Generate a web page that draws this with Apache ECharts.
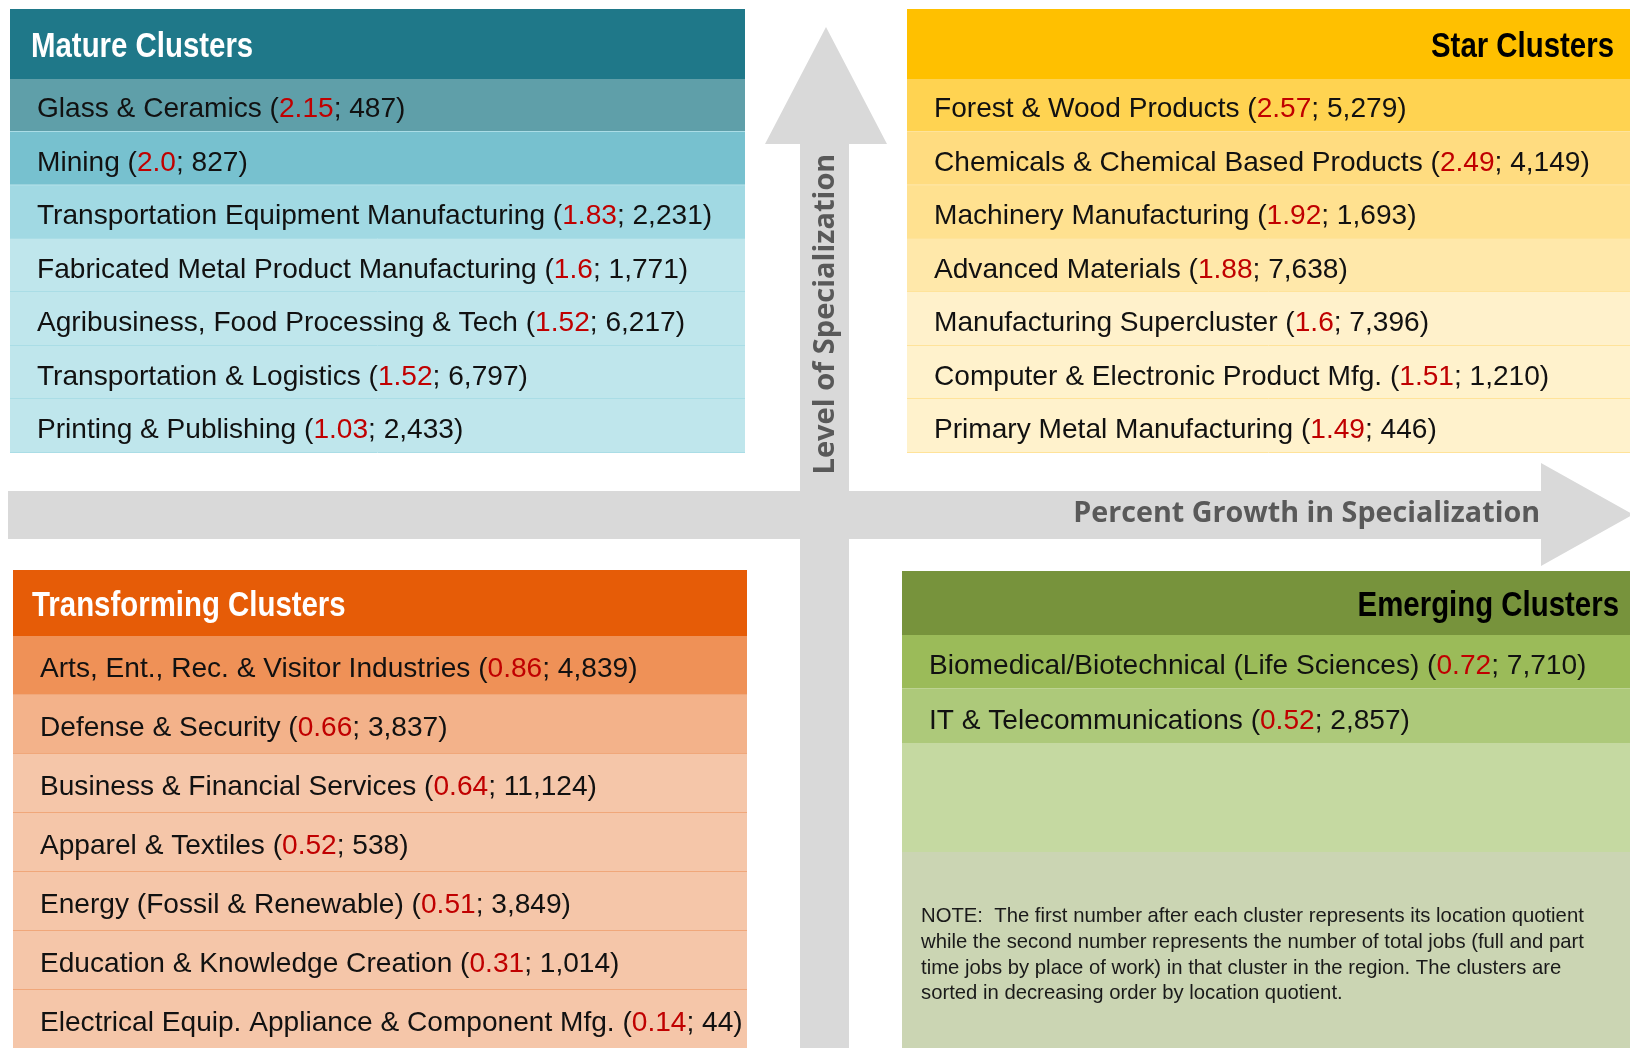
<!DOCTYPE html>
<html lang="en">
<head>
<meta charset="UTF-8">
<title>Cluster Matrix</title>
<script src="https://cdn.jsdelivr.net/npm/echarts@6/dist/echarts.min.js"></script>
<style>
  html, body { margin: 0; padding: 0; background: #fff; }
  #chart { width: 1630px; height: 1048px; }
</style>
</head>
<body>
<div id="chart"></div>
<script>
// quadrant data: cluster name, location quotient (as printed), total jobs
const matureNames = ['Glass & Ceramics', 'Mining', 'Transportation Equipment Manufacturing',
  'Fabricated Metal Product Manufacturing', 'Agribusiness, Food Processing & Tech',
  'Transportation & Logistics', 'Printing & Publishing'];
const matureLQ = ['2.15', '2.0', '1.83', '1.6', '1.52', '1.52', '1.03'];
const matureJobs = [487, 827, 2231, 1771, 6217, 6797, 2433];

const starNames = ['Forest & Wood Products', 'Chemicals & Chemical Based Products',
  'Machinery Manufacturing', 'Advanced Materials', 'Manufacturing Supercluster',
  'Computer & Electronic Product Mfg.', 'Primary Metal Manufacturing'];
const starLQ = ['2.57', '2.49', '1.92', '1.88', '1.6', '1.51', '1.49'];
const starJobs = [5279, 4149, 1693, 7638, 7396, 1210, 446];

const transNames = ['Arts, Ent., Rec. & Visitor Industries', 'Defense & Security',
  'Business & Financial Services', 'Apparel & Textiles', 'Energy (Fossil & Renewable)',
  'Education & Knowledge Creation', 'Electrical Equip. Appliance & Component Mfg.'];
const transLQ = ['0.86', '0.66', '0.64', '0.52', '0.51', '0.31', '0.14'];
const transJobs = [4839, 3837, 11124, 538, 3849, 1014, 44];

const emergNames = ['Biomedical/Biotechnical (Life Sciences)', 'IT & Telecommunications'];
const emergLQ = ['0.72', '0.52'];
const emergJobs = [7710, 2857];

const noteText = 'NOTE:  The first number after each cluster represents its location quotient\n' +
  'while the second number represents the number of total jobs (full and part\n' +
  'time jobs by place of work) in that cluster in the region. The clusters are\n' +
  'sorted in decreasing order by location quotient.';

const ROW_FONT = "'Liberation Sans', Arial, sans-serif";
const HEAD_FONT = "'Liberation Sans', Arial, sans-serif";
const AXIS_FONT = "'Open Sans', sans-serif";
const RED = '#c00000';
const ARROW = '#d9d9d9';

// layout + colours per quadrant
const panels = [
  { title: 'Mature Clusters', names: matureNames, lq: matureLQ, jobs: matureJobs,
    left: 10, width: 735, headTop: 9, headH: 69, rowH: 53.43,
    headColor: '#1f7889', headText: '#fff', align: 'left', titleX: 31,
    rowColors: ['#5f9fa9', '#77c1cf', '#a1d9e3', '#bfe6ec', '#bfe6ec', '#bfe6ec', '#bfe6ec'],
    sep: '#aadde6' },
  { title: 'Star Clusters', names: starNames, lq: starLQ, jobs: starJobs,
    left: 907, width: 723, headTop: 9, headH: 69, rowH: 53.43,
    headColor: '#ffc000', headText: '#000', align: 'right', titleX: 1614,
    rowColors: ['#ffd351', '#ffdc80', '#ffe190', '#ffe8aa', '#fff1cb', '#fff2cc', '#fff2cc'],
    sep: '#ffe39a' },
  { title: 'Transforming Clusters', names: transNames, lq: transLQ, jobs: transJobs,
    left: 13, width: 734, headTop: 570, headH: 65, rowH: 59.5,
    headColor: '#e65c07', headText: '#fff', align: 'left', titleX: 32,
    rowColors: ['#ef9157', '#f3b28a', '#f5c6a9', '#f5c6a9', '#f5c6a9', '#f5c6a9', '#f5c6a9'],
    sep: '#f0a77a' },
  { title: 'Emerging Clusters', names: emergNames, lq: emergLQ, jobs: emergJobs,
    left: 902, width: 728, headTop: 571, headH: 63, rowH: 54.5,
    headColor: '#77933c', headText: '#000', align: 'right', titleX: 1619,
    rowColors: ['#9bbb59', '#adc97a'],
    sep: null }
];

const grids = [], xAxes = [], yAxes = [], series = [], graphics = [];

// arrows first so they sit underneath everything
graphics.push({
  type: 'polygon', z: 0,
  shape: { points: [[8, 491], [1541, 491], [1541, 463], [1633, 514.5], [1541, 566], [1541, 539], [8, 539]] },
  style: { fill: ARROW }
});
graphics.push({
  type: 'polygon', z: 0,
  shape: { points: [[800, 1048], [800, 144], [765, 144], [826, 27], [887, 144], [849, 144], [849, 1048]] },
  style: { fill: ARROW }
});
graphics.push({
  type: 'text', z: 1, x: 826, y: 314, rotation: Math.PI / 2,
  style: { text: 'Level of Specialization', fill: '#595959', font: 'bold 29px ' + AXIS_FONT,
    textAlign: 'center', textVerticalAlign: 'middle' }
});
graphics.push({
  type: 'text', z: 1, x: 1540, y: 514,
  style: { text: 'Percent Growth in Specialization', fill: '#595959', font: 'bold 28.7px ' + AXIS_FONT,
    textAlign: 'right', textVerticalAlign: 'middle' }
});

panels.forEach((p, i) => {
  const top = p.headTop + p.headH;
  const rows = p.names.length;
  grids.push({ left: p.left, top: top, width: p.width, height: p.rowH * rows });
  xAxes.push({ type: 'value', gridIndex: i, min: 0, max: 1, show: false });

  const data = p.names.map((n, r) => ({
    value: 1,
    lq: p.lq[r],
    jobs: p.jobs[r],
    itemStyle: { color: p.rowColors[r] }
  }));
  yAxes.push({
    type: 'category', gridIndex: i, inverse: true, data: p.names, z: 3,
    axisLine: { show: false }, axisTick: { show: false }, axisLabel: { show: false },
    splitLine: { show: !!p.sep, lineStyle: { color: p.sep || '#fff', width: 1 } }
  });
  series.push({
    type: 'bar', xAxisIndex: i, yAxisIndex: i, data: data,
    barWidth: '100%', barCategoryGap: 0, silent: true, animation: false,
    label: {
      show: true, position: 'insideLeft', distance: 27, offset: [0, 5],
      formatter: d => '{t|' + d.name + ' (}{v|' + d.data.lq + '}{t|; ' +
        d.data.jobs.toLocaleString('en-US') + ')}',
      rich: {
        t: { fontFamily: ROW_FONT, fontSize: 28.1, color: '#111' },
        v: { fontFamily: ROW_FONT, fontSize: 28.1, color: RED }
      }
    }
  });

  // header band (1px taller to hide the grid's top split line)
  graphics.push({
    type: 'rect', z: 5,
    shape: { x: p.left, y: p.headTop, width: p.width, height: p.headH + 1 },
    style: { fill: p.headColor }
  });
  graphics.push({
    type: 'text', z: 6,
    x: p.titleX, y: p.headTop + p.headH / 2 + 4, scaleX: 0.84,
    style: { text: p.title, fill: p.headText, font: 'bold 35px ' + HEAD_FONT,
      textAlign: p.align, textVerticalAlign: 'middle' }
  });
});

// empty filler and note box under the emerging rows
graphics.push({
  type: 'rect', z: 1,
  shape: { x: 902, y: 743, width: 728, height: 110 },
  style: { fill: '#c5d9a1' }
});
graphics.push({
  type: 'rect', z: 1,
  shape: { x: 902, y: 852, width: 728, height: 196 },
  style: { fill: '#cbd5b3' }
});
graphics.push({
  type: 'text', z: 2, x: 921, y: 904,
  style: { text: noteText, fill: '#1a1a1a', font: '20.3px ' + ROW_FONT, lineHeight: 25.6,
    textAlign: 'left', textVerticalAlign: 'top' }
});

const chart = echarts.init(document.getElementById('chart'));
chart.setOption({
  animation: false,
  grid: grids,
  xAxis: xAxes,
  yAxis: yAxes,
  series: series,
  graphic: graphics
});
</script>
</body>
</html>
